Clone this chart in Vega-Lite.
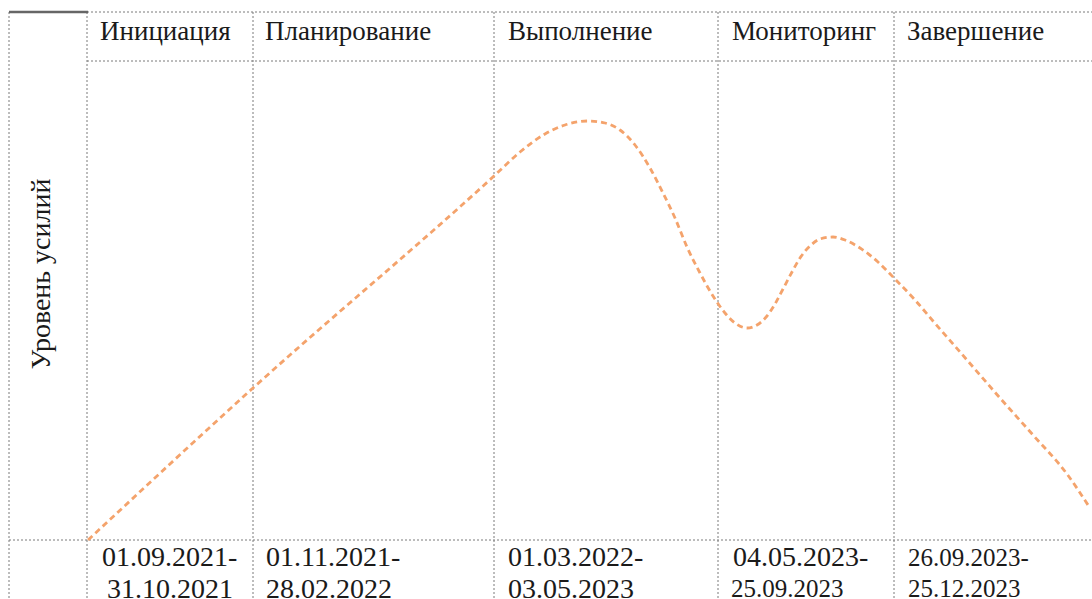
{
  "$schema": "https://vega.github.io/schema/vega-lite/v6.json",
  "width": 1092,
  "height": 599,
  "padding": 0,
  "autosize": {"type": "none"},
  "background": "white",
  "config": {"view": {"stroke": null}, "text": {"font": "Liberation Serif"}},
  "datasets": {
    "grid": [
      {"x": 9, "x2": 9, "y": 12, "y2": 599},
      {"x": 87, "x2": 87, "y": 12, "y2": 599},
      {"x": 253, "x2": 253, "y": 12, "y2": 599},
      {"x": 494, "x2": 494, "y": 12, "y2": 599},
      {"x": 718, "x2": 718, "y": 12, "y2": 599},
      {"x": 894, "x2": 894, "y": 12, "y2": 599},
      {"x": 87, "x2": 1092, "y": 12, "y2": 12},
      {"x": 87, "x2": 1092, "y": 61, "y2": 61},
      {"x": 9, "x2": 1092, "y": 540, "y2": 540}
    ],
    "topbar": [
      {"x": 9, "x2": 88, "y": 12, "y2": 12}
    ],
    "curve": [
      {"x": 88, "y": 540}, {"x": 253, "y": 388}, {"x": 494, "y": 176},
      {"x": 520, "y": 152}, {"x": 545, "y": 134}, {"x": 565, "y": 125},
      {"x": 588, "y": 121}, {"x": 605, "y": 123}, {"x": 620, "y": 130},
      {"x": 635, "y": 145}, {"x": 650, "y": 168}, {"x": 663, "y": 193},
      {"x": 675, "y": 218}, {"x": 687, "y": 247}, {"x": 700, "y": 273},
      {"x": 713, "y": 296}, {"x": 725, "y": 313}, {"x": 735, "y": 323},
      {"x": 747, "y": 328}, {"x": 757, "y": 325}, {"x": 767, "y": 316},
      {"x": 775, "y": 304}, {"x": 783, "y": 289}, {"x": 792, "y": 272},
      {"x": 800, "y": 258}, {"x": 810, "y": 246}, {"x": 820, "y": 239},
      {"x": 833, "y": 237}, {"x": 845, "y": 240}, {"x": 860, "y": 248},
      {"x": 878, "y": 262}, {"x": 894, "y": 278}, {"x": 915, "y": 300},
      {"x": 933, "y": 321}, {"x": 967, "y": 360}, {"x": 1000, "y": 398},
      {"x": 1033, "y": 435}, {"x": 1067, "y": 474}, {"x": 1088, "y": 505}
    ],
    "headers": [
      {"label": "Инициация", "x": 100, "y": 32},
      {"label": "Планирование", "x": 265, "y": 32},
      {"label": "Выполнение", "x": 508, "y": 32},
      {"label": "Мониторинг", "x": 732, "y": 32},
      {"label": "Завершение", "x": 907, "y": 32}
    ],
    "dates": [
      {"label": "01.09.2021-", "x": 102, "y": 566, "group": "a"},
      {"label": "31.10.2021", "x": 107, "y": 598, "group": "a"},
      {"label": "01.11.2021-", "x": 266, "y": 566, "group": "a"},
      {"label": "28.02.2022", "x": 266, "y": 598, "group": "a"},
      {"label": "01.03.2022-", "x": 508, "y": 566, "group": "a"},
      {"label": "03.05.2023", "x": 508, "y": 598, "group": "a"},
      {"label": "04.05.2023-", "x": 733, "y": 566, "group": "a"},
      {"label": "25.09.2023", "x": 731, "y": 597, "group": "b"},
      {"label": "26.09.2023-", "x": 908, "y": 566, "group": "b"},
      {"label": "25.12.2023", "x": 908, "y": 597, "group": "b"}
    ],
    "ytitle": [
      {"label": "Уровень усилий", "x": 42, "y": 274}
    ]
  },
  "layer": [
    {
      "data": {"name": "grid"},
      "mark": {"type": "rule", "stroke": "#7a7a7a", "strokeWidth": 1, "strokeDash": [2, 2]},
      "encoding": {
        "x": {"field": "x", "type": "quantitative", "scale": {"domain": [0, 1092], "nice": false, "zero": false}, "axis": null},
        "x2": {"field": "x2"},
        "y": {"field": "y", "type": "quantitative", "scale": {"domain": [0, 599], "nice": false, "zero": false, "reverse": true}, "axis": null},
        "y2": {"field": "y2"}
      }
    },
    {
      "data": {"name": "topbar"},
      "mark": {"type": "rule", "stroke": "#666666", "strokeWidth": 2.5},
      "encoding": {
        "x": {"field": "x", "type": "quantitative"},
        "x2": {"field": "x2"},
        "y": {"field": "y", "type": "quantitative"},
        "y2": {"field": "y2"}
      }
    },
    {
      "data": {"name": "curve"},
      "mark": {"type": "line", "interpolate": "monotone", "stroke": "#F4A36C", "strokeWidth": 2.8, "strokeDash": [6, 4]},
      "encoding": {
        "x": {"field": "x", "type": "quantitative"},
        "y": {"field": "y", "type": "quantitative"}
      }
    },
    {
      "data": {"name": "headers"},
      "mark": {"type": "text", "fontSize": 27, "align": "left", "baseline": "middle", "color": "#1a1a1a"},
      "encoding": {
        "x": {"field": "x", "type": "quantitative"},
        "y": {"field": "y", "type": "quantitative"},
        "text": {"field": "label"}
      }
    },
    {
      "data": {"name": "dates"},
      "transform": [{"filter": "datum.group === 'a'"}],
      "mark": {"type": "text", "fontSize": 28, "align": "left", "baseline": "alphabetic", "color": "#1a1a1a"},
      "encoding": {
        "x": {"field": "x", "type": "quantitative"},
        "y": {"field": "y", "type": "quantitative"},
        "text": {"field": "label"}
      }
    },
    {
      "data": {"name": "dates"},
      "transform": [{"filter": "datum.group === 'b'"}],
      "mark": {"type": "text", "fontSize": 25, "align": "left", "baseline": "alphabetic", "color": "#1a1a1a"},
      "encoding": {
        "x": {"field": "x", "type": "quantitative"},
        "y": {"field": "y", "type": "quantitative"},
        "text": {"field": "label"}
      }
    },
    {
      "data": {"name": "ytitle"},
      "mark": {"type": "text", "fontSize": 28, "align": "center", "baseline": "middle", "angle": 270, "color": "#1a1a1a"},
      "encoding": {
        "x": {"field": "x", "type": "quantitative"},
        "y": {"field": "y", "type": "quantitative"},
        "text": {"field": "label"}
      }
    }
  ]
}
